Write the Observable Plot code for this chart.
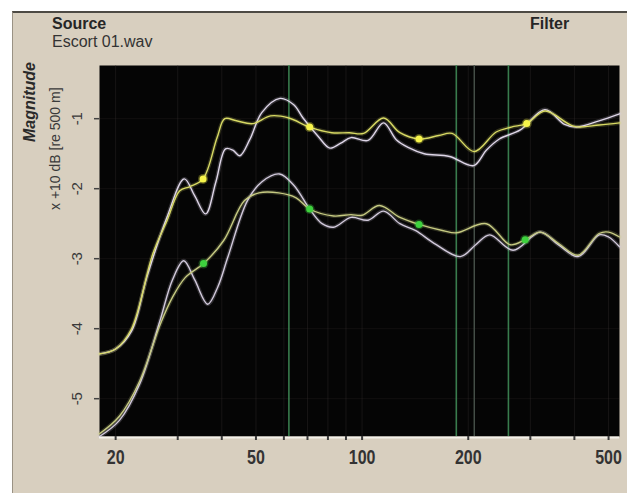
<!DOCTYPE html>
<html>
<head>
<meta charset="utf-8">
<script src="https://cdn.jsdelivr.net/npm/d3@7"></script>
<script src="https://cdn.jsdelivr.net/npm/@observablehq/plot@0.6"></script>
<style>
  html, body { margin: 0; padding: 0; background: #ffffff; }
  body { width: 627px; height: 493px; position: relative; overflow: hidden;
         font-family: "Liberation Sans", Arial, sans-serif; }
  #panel { position: absolute; left: 12px; top: 11px; width: 620px; height: 490px;
           background: #d8cfbf; border-top: 2px solid #4d4a44; border-left: 1px solid #9a9284; }
  .lbl { position: absolute; color: #262626; white-space: nowrap; }
  #source { left: 52px; top: 15px; font-size: 16px; font-weight: bold; }
  #file { left: 52px; top: 33px; font-size: 16px; color: #333; }
  #filter { left: 530px; top: 15px; font-size: 16px; font-weight: bold; }
  .rot { position: absolute; white-space: nowrap; transform-origin: 0 0; transform: rotate(-90deg); }
  #ytitle { left: 21px; top: 142px; font-size: 16px; font-weight: bold; font-style: italic; color: #2a2a2a; }
  #ysub { left: 47px; top: 210px; font-size: 14px; color: #3a3a3a; }
  #chart { position: absolute; left: 0; top: 0; }
</style>
</head>
<body>
<div id="panel"></div>
<div class="lbl" id="source">Source</div>
<div class="lbl" id="file">Escort 01.wav</div>
<div class="lbl" id="filter">Filter</div>
<div class="rot" id="ytitle">Magnitude</div>
<div class="rot" id="ysub">x +10 dB [re 500 m]</div>
<div id="chart"></div>
<script>
// ---- axis ticks ----
const majorFreqTicks = [20, 50, 100, 200, 500];
const allFreqTicks = [20, 30, 40, 50, 60, 70, 80, 90, 100, 200, 300, 400, 500];
const magTicks = [-1, -2, -3, -4, -5];
const freqDomain = [18, 537];
const magDomain = [-5.54, -0.24];

// ---- vertical marker lines (Hz) ----
const markerFreqs = [62, 185, 260];
const dimMarkerFreqs = [208];

// ---- upper pair: yellow (smoothed) ----
const upperYellowF = [18, 20, 22.2, 25.5, 28, 30.4, 32.5, 35.4, 38.8, 40.8, 44, 49, 55, 62, 71, 82, 92, 101, 115, 128, 145, 165, 180, 208, 240, 265, 293, 330, 400, 470, 537];
const upperYellowV = [-4.36, -4.29, -4.0, -2.93, -2.45, -2.03, -1.97, -1.86, -1.27, -1.0, -1.03, -1.07, -0.96, -0.99, -1.12, -1.2, -1.2, -1.21, -0.99, -1.2, -1.29, -1.24, -1.21, -1.47, -1.19, -1.12, -1.07, -0.89, -1.11, -1.09, -1.06];
// ---- upper pair: white ----
const upperWhiteF = [18, 20, 22.2, 24.5, 28, 31.3, 33.5, 36, 38.5, 41, 43, 45, 48, 52, 58.5, 64, 68, 75, 81, 87, 93, 104, 115, 125, 135, 150, 177, 207, 225, 245, 281, 330, 375, 406, 470, 537];
const upperWhiteV = [-4.36, -4.29, -4.03, -3.27, -2.4, -1.86, -2.1, -2.36, -1.9, -1.43, -1.45, -1.53, -1.3, -0.91, -0.71, -0.8, -0.99, -1.25, -1.42, -1.35, -1.27, -1.31, -1.06, -1.3, -1.41, -1.5, -1.54, -1.67, -1.45, -1.29, -1.16, -0.87, -1.08, -1.12, -1.03, -0.93];

// ---- lower pair: yellow (smoothed) ----
const lowerYellowF = [18, 20.5, 23.4, 26.7, 29, 31.5, 35.5, 40.5, 46.4, 51, 58, 65, 71, 83, 93, 100, 112, 128, 145, 170, 185, 225, 263, 290, 320, 360, 410, 470, 500, 537];
const lowerYellowV = [-5.5, -5.25, -4.75, -3.95, -3.55, -3.27, -3.07, -2.74, -2.17, -2.06, -2.06, -2.13, -2.29, -2.39, -2.37, -2.38, -2.24, -2.41, -2.51, -2.6, -2.63, -2.5, -2.8, -2.73, -2.62, -2.78, -2.95, -2.64, -2.62, -2.69];
// ---- lower pair: white ----
const lowerWhiteF = [18, 20.5, 23.4, 26.7, 29, 31.2, 33.5, 36.5, 39, 41.6, 47.3, 52, 58.3, 64, 71, 77, 83, 93, 104, 115, 128, 142, 160, 190, 210, 230, 268, 320, 360, 410, 470, 500, 537];
const lowerWhiteV = [-5.54, -5.31, -4.79, -3.89, -3.3, -3.03, -3.3, -3.65, -3.4, -2.98, -2.17, -1.9, -1.79, -1.95, -2.29, -2.5, -2.55, -2.41, -2.45, -2.32, -2.5, -2.6, -2.78, -2.97, -2.8, -2.66, -2.88, -2.62, -2.8, -2.97, -2.66, -2.69, -2.83];

// ---- marker dots ----
const upperDotF = [35.4, 71, 145, 293];
const upperDotV = [-1.86, -1.12, -1.29, -1.07];
const lowerDotF = [35.5, 71, 145, 290];
const lowerDotV = [-3.07, -2.29, -2.51, -2.73];

const toRows = (F, V) => F.map((f, i) => ({f, v: V[i]}));
const uY = toRows(upperYellowF, upperYellowV);
const uW = toRows(upperWhiteF, upperWhiteV);
const lY = toRows(lowerYellowF, lowerYellowV);
const lW = toRows(lowerWhiteF, lowerWhiteV);
const uD = toRows(upperDotF, upperDotV);
const lD = toRows(lowerDotF, lowerDotV);

const curve = "catmull-rom";
const glow = (data, color) => Plot.line(data, {x: "f", y: "v", curve, stroke: color, strokeWidth: 4, strokeOpacity: 0.2});
const line = (data, color) => Plot.line(data, {x: "f", y: "v", curve, stroke: color, strokeWidth: 1.4});

const chart = Plot.plot({
  width: 627,
  height: 493,
  marginLeft: 99,
  marginRight: 8,
  marginTop: 65,
  marginBottom: 57,
  style: {background: "transparent", fontFamily: '"Liberation Sans", Arial, sans-serif'},
  x: {type: "log", domain: freqDomain},
  y: {domain: magDomain},
  marks: [
    Plot.frame({fill: "#050505"}),
    Plot.gridX(allFreqTicks, {stroke: "#3a3535", strokeOpacity: 0.35}),
    Plot.gridY(magTicks, {stroke: "#3a3535", strokeOpacity: 0.25}),
    Plot.ruleX(markerFreqs, {stroke: "#3f8a55", strokeWidth: 1.6, strokeOpacity: 0.9}),
    Plot.ruleX(dimMarkerFreqs, {stroke: "#48524b", strokeWidth: 1.4}),
    glow(lW, "#d0c8da"), glow(lY, "#c8cc84"), glow(uW, "#dcd4e6"), glow(uY, "#dede6a"),
    line(lW, "#d2cadc"),
    line(lY, "#c6ca82"),
    line(uW, "#ded6e8"),
    line(uY, "#d8da64"),
    Plot.dot(uD, {x: "f", y: "v", r: 5, fill: "#f4f44c", fillOpacity: 0.3}),
    Plot.dot(uD, {x: "f", y: "v", r: 3.5, fill: "#f6f44a"}),
    Plot.dot(lD, {x: "f", y: "v", r: 5, fill: "#44d044", fillOpacity: 0.3}),
    Plot.dot(lD, {x: "f", y: "v", r: 3.5, fill: "#3ed23e"}),
    Plot.ruleY([magDomain[0]], {stroke: "#f4f1ea", strokeWidth: 2, dy: 1}),
    Plot.axisX(allFreqTicks, {
      tickSize: 4, tickPadding: 9, strokeWidth: 2, stroke: "#3a3a3a",
      tickFormat: d => majorFreqTicks.includes(d) ? String(d) : "",
      fontSize: 20, fontWeight: "bold", color: "#333", label: null
    }),
    Plot.axisY(magTicks, {tickSize: 5, strokeWidth: 1.5, stroke: "#444", tickFormat: () => "", label: null}),
    Plot.text(magTicks, {y: d => d, text: d => String(d), frameAnchor: "left", dx: -22, rotate: -90,
      fontSize: 15, fill: "#3a3a3a", textAnchor: "middle", lineAnchor: "middle"})
  ]
});
// condense the bold x tick labels horizontally (narrow UI font in the original)
chart.querySelectorAll('g[aria-label="x-axis tick label"] text').forEach(t => {
  const tr = t.getAttribute("transform") || "";
  t.setAttribute("transform", tr + " scale(0.8,1)");
});
document.getElementById("chart").appendChild(chart);
</script>
</body>
</html>
